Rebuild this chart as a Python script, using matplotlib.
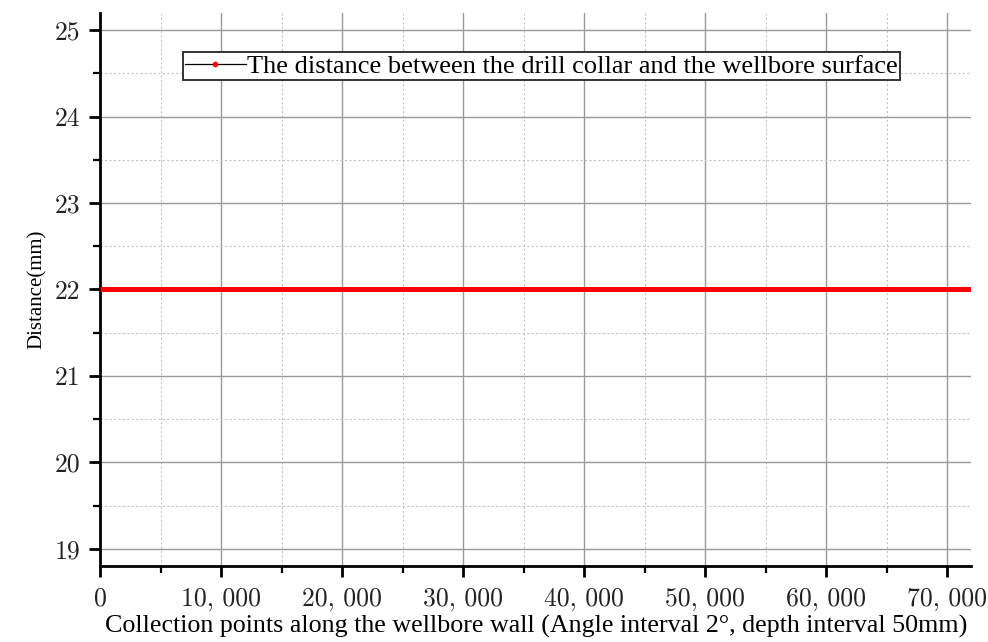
import matplotlib
matplotlib.use("Agg")
import matplotlib.pyplot as plt
from matplotlib.lines import Line2D
from matplotlib.ticker import MultipleLocator

# Collection point index along the wellbore wall and the measured gap (mm)
x_points = [0, 72000]
distance = [22.0, 22.0]

x_ticks = [0, 10000, 20000, 30000, 40000, 50000, 60000, 70000]
x_tick_labels = ["0", "10, 000", "20, 000", "30, 000", "40, 000",
                 "50, 000", "60, 000", "70, 000"]
y_ticks = [19, 20, 21, 22, 23, 24, 25]

SERIF = ["Liberation Serif", "DejaVu Serif"]

fig = plt.figure(figsize=(9.88, 6.42), dpi=100)
ax = fig.add_axes([0.1012, 0.1184, 0.882, 0.8614])

ax.plot(x_points, distance, color="#ff0000", linewidth=3.6, zorder=3,
        solid_capstyle="butt")

ax.set_xlim(0, 72000)
ax.set_ylim(18.8, 25.2)

ax.set_xticks(x_ticks)
ax.set_xticklabels(x_tick_labels)
ax.set_yticks(y_ticks)
ax.xaxis.set_minor_locator(MultipleLocator(5000))
ax.yaxis.set_minor_locator(MultipleLocator(0.5))

ax.tick_params(which="major", direction="out", length=8, width=2,
               color="black", labelcolor="#222222", labelsize=18.5,
               labelfontfamily="cmr10")
ax.tick_params(axis="x", which="major", pad=7)
ax.tick_params(axis="y", which="major", pad=6)
ax.tick_params(which="minor", direction="out", length=5, width=1.6,
               color="black")

ax.grid(which="major", color="#9a9a9a", linewidth=1.0, linestyle="-")
ax.grid(which="minor", color="#c4c4c4", linewidth=0.8, linestyle=(0, (2, 2)))
ax.set_axisbelow(True)

for side in ("top", "right"):
    ax.spines[side].set_visible(False)
for side in ("left", "bottom"):
    ax.spines[side].set_linewidth(2)
    ax.spines[side].set_color("black")

ax.set_xlabel("Collection points along the wellbore wall "
              "(Angle interval 2\u00b0, depth interval 50mm)",
              family=SERIF, fontsize=18.7, labelpad=3)
ax.set_ylabel("Distance(mm)", family=SERIF, fontsize=15, labelpad=6)

handle = Line2D([], [], color="black", linewidth=0.9, marker="o",
                markersize=3, markerfacecolor="red", markeredgecolor="red")
leg = ax.legend([handle], ["The distance between the drill collar and the wellbore surface"],
                loc="upper left", bbox_to_anchor=(0.0953, 0.929),
                prop={"family": SERIF, "size": 19}, frameon=True,
                fancybox=False, framealpha=1, edgecolor="#333333",
                borderpad=0.08, handlelength=2.3, handletextpad=0.05,
                borderaxespad=0)
leg.get_frame().set_linewidth(1.4)

fig.savefig("out.png", dpi=100)
